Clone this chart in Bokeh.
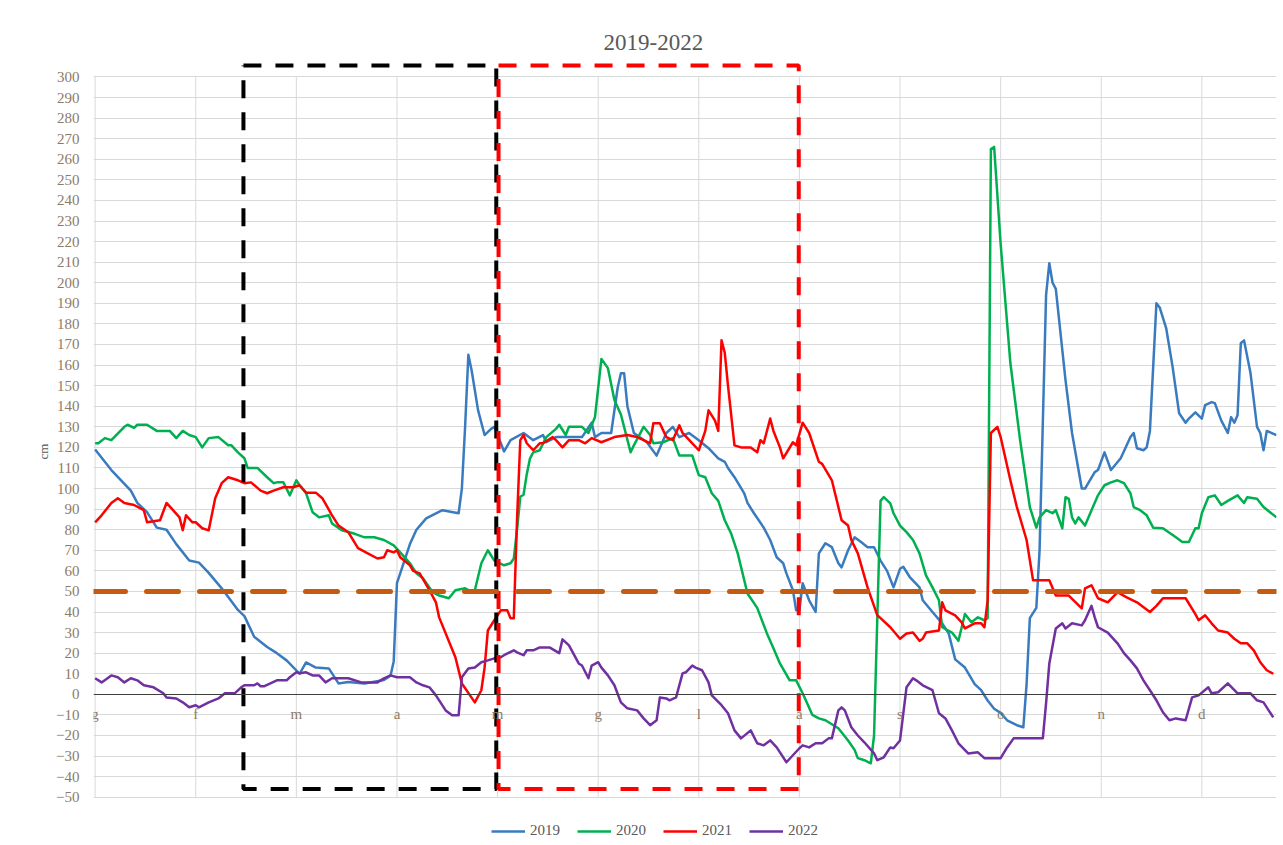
from bokeh.plotting import figure
from bokeh.models import FixedTicker, Span, Legend
from bokeh.embed import file_html
from bokeh.resources import INLINE

# ---------------- data ----------------
title_text = "2019-2022"
y_label = "cm"
month_labels = ["g", "f", "m", "a", "m", "g", "l", "a", "s", "o", "n", "d"]
month_start_days = [0, 31, 62, 93, 124, 155, 186, 217, 248, 279, 310, 341]
last_day = 364
y_ticks = list(range(-50, 301, 10))
threshold_cm = 50

days_2019 = [0, 5, 8, 11, 13, 16, 19, 22, 25, 29, 32, 35, 39, 44, 46, 49, 53, 56, 59, 63, 65, 68, 72, 75, 78, 83, 89, 91, 92, 93,
             97, 99, 102, 107, 112, 113, 114, 115, 116, 118, 120, 122, 123, 126, 128, 132, 135, 138, 139, 142, 150, 153, 154,
             156, 159, 161, 162, 163, 164, 166, 170, 173, 176, 178, 180, 183, 186, 189, 192, 194, 195, 197, 200, 201, 203,
             206, 208, 210, 212, 213, 215, 216, 217, 218, 220, 222, 223, 225, 227, 229, 230, 232, 234, 236, 238, 240, 242,
             244, 246, 248, 249, 251, 254, 255, 258, 261, 263, 265, 268, 271, 273, 275, 277, 279, 281, 284, 286, 287, 288,
             290, 291, 293, 294, 295, 296, 299, 301, 304, 305, 308, 309, 311, 313, 316, 319, 320, 321, 323, 324, 325, 327,
             328, 330, 332, 334, 336, 337, 339, 341, 342, 344, 345, 347, 349, 350, 351, 352, 353, 354, 356, 358, 359, 360,
             361, 364]
cm_2019 = [119, 109, 104, 99, 93, 88.5, 81, 80, 73, 65, 64, 59, 51.5, 41, 38, 28, 23, 20, 16.5, 10, 15.5, 13, 12.6, 5.3, 6, 5.3, 7,
           9, 16, 54, 73, 80, 85.5, 89.5, 88, 100, 130, 165, 157.5, 138, 126, 129, 130, 118, 123.5, 127, 123.5, 126, 122.5,
           125, 125, 132, 125, 127, 127, 149, 156, 156, 140, 127, 122.5, 116, 127, 130, 125, 127, 123.5, 119.6, 114.7, 113,
           110, 105.5, 97.7, 93, 88, 81, 75, 66.6, 63.7, 58.8, 50.6, 40.8, 40.8, 54, 45.7, 40, 68.5, 73.4, 71.5, 63.7,
           61.7, 70, 76.3, 74, 71.5, 71.5, 65, 60, 52, 61, 62, 57, 52, 45.7, 40, 34.5, 29.6, 17, 13, 5, 2, -3, -7, -9,
           -12.6, -15, -16, 5, 37, 42, 70, 194, 209.5, 200, 197, 152.6, 127, 100, 100, 108, 109, 117.6, 109, 114.7, 125,
           127, 119.6, 118.6, 120, 128, 190, 188, 178, 159, 136.6, 132, 134, 137, 134, 140.5, 142, 141.5, 133, 127, 134.7,
           132, 135.6, 170.6, 172, 156, 130, 127, 118.6, 128, 126]

days_2020 = [0, 1, 3, 5, 9, 10, 12, 13, 16, 19, 23, 25, 27, 29, 31, 33, 35, 38, 41, 42, 44, 46, 47, 50, 53, 55, 56, 58, 60, 62,
             63, 65, 67, 69, 72, 73, 76, 80, 83, 86, 89, 92, 94, 97, 99, 101, 104, 106, 109, 111, 114, 115, 117, 119, 121,
             123, 126, 128, 129, 130, 131, 132, 133, 134, 135, 137, 139, 142, 143, 145, 146, 150, 152, 154, 156, 158, 160,
             162, 165, 166, 169, 171, 172, 175, 178, 180, 184, 186, 188, 190, 192, 194, 196, 198, 201, 204, 207, 209, 211,
             214, 216, 218, 221, 223, 225, 229, 232, 234, 235, 237, 239, 240, 242, 243, 245, 246, 248, 250, 252, 254, 256,
             258, 260, 261, 264, 266, 268, 270, 272, 274, 275, 276, 277, 279, 282, 285, 288, 290, 291, 293, 295, 296, 298,
             299, 300, 301, 302, 303, 305, 307, 309, 311, 313, 315, 317, 319, 320, 322, 324, 326, 329, 333, 335, 337, 339,
             340, 341, 343, 345, 347, 349, 352, 354, 355, 358, 360, 362, 364]
cm_2020 = [122, 122, 124.5, 123.5, 130, 131, 129.5, 131, 131, 128, 128, 124.5, 128, 126, 125, 120, 124.5, 125, 121, 121, 117.6,
           114.7, 110, 110, 105.5, 102.6, 103, 103, 96.7, 104, 101.6, 97.7, 88.5, 86, 87, 83, 79.7, 78, 76.3, 76.3, 75,
           72.4, 69, 63.7, 58.8, 56.4, 49.6, 48, 46.7, 50.6, 51.5, 50.6, 50.6, 63.7, 70, 65, 62.7, 63.7, 66, 80, 96, 97, 107,
           114.7, 117.6, 118.6, 125, 129, 131, 126, 130, 130, 127, 134.6, 163, 158.5, 143, 136, 117.6, 121, 130, 126, 122,
           122.5, 124.5, 116, 116, 106.5, 105.5, 97.7, 94, 84.6, 78, 68.5, 49, 42, 29.6, 22.4, 15, 6.8, 6.8, 0.5, -10,
           -11.7, -12.6, -16.5, -22.4, -27, -31, -32, -33.5, -20, 94, 95.8, 92.8, 88, 82, 78.8, 75, 68.5, 57.8, 52, 45.7,
           32.6, 30, 26, 39, 35, 37.4, 36, 37, 265, 266, 219, 161, 123.5, 91, 81, 86, 89.5, 88, 89.5, 80.7, 95.8, 95, 86,
           83, 86, 82, 89.5, 96.7, 101.6, 103, 104, 102.6, 97.7, 91, 89.5, 87, 81, 80.7, 76.3, 74, 74, 80.7, 80.7, 88,
           95.8, 96.7, 92, 94, 96.7, 93, 95.8, 95, 91, 88.5, 86]

days_2021 = [0, 2, 5, 7, 9, 12, 15, 16, 20, 22, 24, 26, 27, 28, 30, 31, 33, 35, 37, 39, 41, 44, 46, 48, 51, 53, 55, 58, 61, 63,
             65, 68, 70, 73, 75, 78, 81, 84, 87, 89, 90, 92, 93, 94, 97, 98, 100, 103, 105, 106, 111, 113, 117, 119, 120,
             121, 123, 125, 127, 128, 129, 130, 131, 132, 133, 135, 137, 138, 141, 142, 144, 146, 149, 151, 153, 156, 160,
             164, 167, 169, 171, 172, 174, 176, 178, 180, 181, 184, 186, 188, 189, 191, 192, 193, 194, 195, 197, 199, 202,
             204, 205, 206, 208, 209, 211, 212, 215, 216, 218, 220, 223, 224, 227, 230, 232, 233, 235, 238, 241, 242, 245,
             248, 250, 252, 254, 255, 256, 260, 261, 262, 265, 267, 268, 271, 273, 274, 275, 276, 278, 279, 282, 284, 287,
             289, 294, 296, 300, 304, 305, 307, 309, 312, 315, 318, 321, 325, 327, 329, 332, 336, 339, 340, 342, 344, 346,
             349, 351, 353, 355, 357, 359, 361, 363]
cm_2021 = [83.6, 87, 93, 95.3, 93, 92, 89.5, 83.6, 84.6, 93, 89.5, 86, 79.7, 87, 83.6, 83.6, 80.7, 79.7, 95.3, 102.6, 105.5,
           104, 102.6, 103, 99, 97.7, 99, 100.6, 100.6, 101.6, 98, 98, 95.3, 87, 82, 78.8, 71, 68.5, 66, 66.6, 70, 69, 70,
           66.6, 62.7, 60, 58.8, 50.6, 44.7, 37.4, 18, 5.3, -3.9, 2, 13, 31, 36, 40.8, 40.8, 37, 37, 85, 123.5, 126, 122,
           118.6, 122, 122, 125, 123.5, 120, 123.5, 123.5, 122, 124.5, 122.5, 125, 126, 125, 123.5, 122, 131.7, 131.7,
           125, 123.5, 130.7, 127, 122, 118.6, 128, 138, 133, 128, 172, 166, 150, 121, 120, 120, 117.6, 123.5, 122, 134,
           128, 120, 114.7, 122.5, 121, 132, 127, 113, 112, 104, 84.6, 82, 75, 68.5, 52, 38.4, 37, 32.6, 27, 29.6, 30, 26,
           27, 30, 31, 44.7, 40.8, 38.4, 35, 32, 34.5, 34.5, 32.6, 45.7, 127, 130, 125, 104, 91, 75, 55.4, 55.4, 48, 48,
           41.8, 51.5, 53, 46.7, 44.7, 49.6, 47, 44.7, 40, 43, 46.7, 46.7, 46.7, 39, 36, 38.4, 34.5, 31, 30, 27, 24.8,
           24.8, 21.4, 15.6, 11.7, 10]

days_2022 = [0, 2, 5, 7, 9, 11, 13, 15, 18, 21, 22, 25, 27, 29, 31, 32, 35, 38, 40, 43, 45, 46, 49, 50, 51, 52, 56, 59, 60, 62,
             63, 65, 67, 69, 71, 73, 78, 82, 87, 89, 91, 93, 95, 97, 99, 101, 103, 105, 108, 110, 112, 113, 115, 117, 119,
             121, 123, 125, 126, 129, 130, 132, 133, 135, 137, 140, 143, 144, 146, 149, 150, 152, 153, 155, 156, 158, 160,
             162, 164, 167, 169, 171, 173, 174, 176, 177, 179, 181, 182, 184, 185, 187, 189, 190, 193, 195, 197, 199, 202,
             204, 206, 208, 210, 213, 215, 217, 218, 220, 222, 224, 226, 227, 229, 230, 231, 233, 235, 237, 240, 241, 243,
             245, 246, 248, 250, 252, 253, 255, 258, 260, 262, 264, 266, 269, 272, 274, 279, 281, 283, 285, 292, 293, 294,
             296, 298, 299, 301, 304, 305, 307, 308, 309, 312, 315, 317, 319, 321, 323, 325, 327, 329, 331, 333, 336, 338,
             340, 343, 344, 346, 349, 352, 356, 358, 360, 363]
cm_2022 = [7.8, 5.8, 9.2, 8.3, 5.8, 7.8, 6.8, 4.4, 3.4, 0.5, -1.5, -2, -3.9, -6.3, -5.3, -6.3, -3.9, -2, 0.5, 0.5, 3.4, 4.4,
           4.4, 5.3, 3.9, 3.9, 6.8, 6.8, 8.3, 10.7, 10.2, 10.7, 9.2, 9.2, 5.8, 7.8, 7.8, 5.8, 5.8, 7.8, 9.2, 8.3, 8.3, 8.3,
           5.8, 4.4, 3.4, -0.5, -7.8, -10.2, -10.2, 8.3, 12.6, 13, 15.6, 16.5, 17.5, 18, 19, 21.4, 20.4, 19, 21.4, 21.4,
           22.8, 22.8, 20, 26.7, 23.8, 15, 14, 7.8, 14, 15.6, 13, 9.2, 4.4, -3.9, -6.8, -7.8, -11.7, -15, -12.6, -1.5, -2,
           -2.9, -1.5, 10.2, 10.7, 14, 13, 11.7, 5.8, -0.5, -5.3, -9.2, -17.5, -21.4, -17.5, -23.8, -24.8, -22.4, -25.8,
           -33, -29.6, -26.2, -24.8, -25.8, -23.8, -23.8, -21.4, -21.4, -7.8, -6.3, -7.8, -16, -20, -23.3, -28.7, -32,
           -30.6, -25.8, -26.2, -22.4, 3.4, 7.8, 6.8, 4.4, 2, -9.2, -11.7, -17.5, -23.8, -28.7, -28.2, -31, -31, -25.8,
           -21.4, -21.4, -21.4, -4.4, 15, 32, 34.5, 32, 34.5, 33.5, 36, 43, 37.4, 32.6, 30, 24.8, 20, 16.5, 12.6, 6.8, 2,
           -2.9, -8.7, -12.6, -11.7, -12.6, -1.5, -0.5, 3.4, 0.5, 1, 5.3, 0.5, 0.5, -2.9, -3.9, -11.2]

series = [
    ("2019", days_2019, cm_2019, "#3a7bbf"),
    ("2020", days_2020, cm_2020, "#00b050"),
    ("2021", days_2021, cm_2021, "#ff0000"),
    ("2022", days_2022, cm_2022, "#7030a0"),
]

# highlighted periods (annotation boxes, in day / cm units)
black_box = (45.7, 123.6, -46.0, 305.6)   # left, right, bottom, top
red_box = (124.3, 216.8, -46.0, 305.6)

# ---------------- styling ----------------
SERIF = "Liberation Serif"
TICK_COLOR = "#8d7b68"
TEXT_COLOR = "#595959"
GRID_COLOR = "#d9d9d9"

p = figure(width=1280, height=844, x_range=(-0.5, last_day), y_range=(-72, 308),
           output_backend="svg", toolbar_location=None,
           min_border_left=93, min_border_right=4, min_border_top=60, min_border_bottom=2)
p.outline_line_color = None
p.background_fill_color = "white"
p.border_fill_color = "white"

# title
p.title.text = title_text
p.title.align = "left"
p.title.offset = 510
p.title.standoff = 22
p.title.text_font = SERIF
p.title.text_font_size = "23px"
p.title.text_font_style = "normal"
p.title.text_color = TEXT_COLOR

# y axis
p.yaxis.ticker = FixedTicker(ticks=y_ticks)
p.yaxis.axis_line_color = None
p.yaxis.major_tick_line_color = None
p.yaxis.minor_tick_line_color = None
p.yaxis.major_label_text_font = SERIF
p.yaxis.major_label_text_font_size = "15px"
p.yaxis.major_label_text_color = TICK_COLOR
p.yaxis.major_label_standoff = 8
p.yaxis.axis_label = y_label
p.yaxis.axis_label_text_font = SERIF
p.yaxis.axis_label_text_font_size = "13px"
p.yaxis.axis_label_text_font_style = "normal"
p.yaxis.axis_label_text_color = TEXT_COLOR
p.yaxis.axis_label_standoff = 2

p.ygrid.ticker = FixedTicker(ticks=y_ticks)
p.ygrid.grid_line_color = GRID_COLOR
p.ygrid.grid_line_width = 1
p.xgrid.visible = False

# vertical month grid lines (from -50 to 300)
p.segment(x0=month_start_days, y0=[y_ticks[0]] * len(month_start_days),
          x1=month_start_days, y1=[y_ticks[-1]] * len(month_start_days),
          line_color=GRID_COLOR, line_width=1)

# x axis at zero
p.xaxis.fixed_location = 0
p.xaxis.ticker = FixedTicker(ticks=month_start_days)
p.xaxis.major_label_overrides = {d: lab for d, lab in zip(month_start_days, month_labels)}
p.xaxis.axis_line_color = "#3f3f3f"
p.xaxis.axis_line_width = 1
p.xaxis.major_tick_line_color = None
p.xaxis.minor_tick_line_color = None
p.xaxis.major_label_text_font = SERIF
p.xaxis.major_label_text_font_size = "15px"
p.xaxis.major_label_text_color = TICK_COLOR
p.xaxis.major_label_standoff = 6

# threshold line
p.add_layout(Span(location=threshold_cm, dimension="width", line_color="#c55a11",
                  line_width=5, line_dash="32 21", line_cap="round"))

# series
items = []
for name, d, v, c in series:
    r = p.line(d, v, line_color=c, line_width=2.5, line_join="round")
    items.append((name, [r]))

# boxes
def box_path(b):
    l, r, bo, t = b
    return [l, r, r, l, l], [t, t, bo, bo, t]

bx, by = box_path(black_box)
p.line(bx, by, line_color="black", line_width=4, line_dash="18 14")
rx, ry = box_path(red_box)
p.line(rx, ry, line_color="#ff0000", line_width=4, line_dash="18 14")

# legend (inside the frame, beneath the -50 grid line)
lg = Legend(items=items, orientation="horizontal", location=(398, 3))
lg.border_line_color = None
lg.background_fill_alpha = 0
lg.padding = 2
lg.margin = 0
lg.spacing = 17
lg.glyph_width = 34
lg.glyph_height = 16
lg.label_height = 16
lg.label_standoff = 5
lg.label_text_font = SERIF
lg.label_text_font_size = "15px"
lg.label_text_color = TEXT_COLOR
p.add_layout(lg, "center")

open("out.html", "w").write(file_html(p, INLINE))
